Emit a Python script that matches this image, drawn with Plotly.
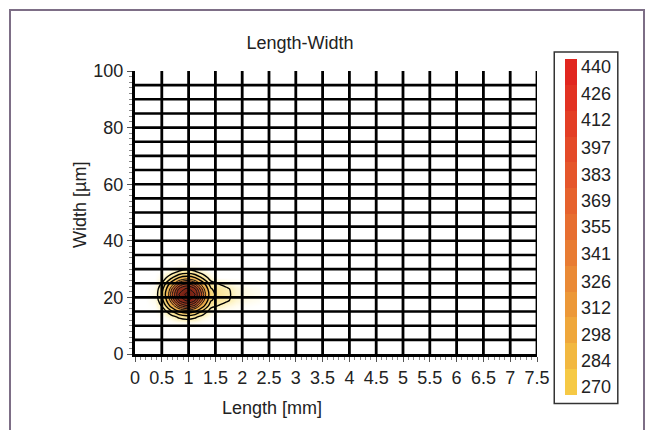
import plotly.graph_objects as go

# --- data -----------------------------------------------------------------
# sample grid (Length in mm, Width in µm) around the single hot spot
length_mm = [0.2, 0.37, 0.52, 0.67, 0.82, 0.97, 1.12, 1.27, 1.42, 1.57, 1.72, 1.87, 2.05, 2.35]
width_um = [9, 11, 13, 15, 17, 19, 21, 23, 25, 27, 29, 31, 33]

# counts per cell, one row per width value
counts = [
    [0, 0, 0, 0, 0, 0, 0, 0, 0, 0, 0, 0, 0, 0],
    [0, 0, 0, 2, 10, 12, 10, 2, 0, 0, 0, 0, 0, 0],
    [0, 0, 2, 28, 70, 89, 70, 28, 2, 0, 0, 0, 0, 0],
    [0, 0, 25, 103, 182, 210, 182, 103, 25, 5, 0, 0, 0, 0],
    [0, 6, 74, 199, 295, 334, 295, 199, 80, 55, 30, 15, 6, 0],
    [0, 16, 118, 259, 376, 415, 376, 259, 125, 90, 70, 35, 20, 8],
    [0, 22, 134, 285, 405, 450, 405, 285, 140, 95, 75, 40, 22, 10],
    [0, 16, 118, 259, 376, 415, 376, 259, 125, 90, 70, 35, 20, 8],
    [0, 6, 74, 199, 295, 334, 295, 199, 80, 55, 30, 15, 6, 0],
    [0, 0, 25, 103, 182, 210, 182, 103, 25, 0, 0, 0, 0, 0],
    [0, 0, 2, 28, 70, 89, 70, 28, 2, 0, 0, 0, 0, 0],
    [0, 0, 0, 2, 10, 12, 10, 2, 0, 0, 0, 0, 0, 0],
    [0, 0, 0, 0, 0, 0, 0, 0, 0, 0, 0, 0, 0, 0],
]

# colour-bar levels and their swatches
level_labels = ["270", "284", "298", "312", "326", "341", "355",
                "369", "383", "397", "412", "426", "440"]
level_colors = ["#f6c945", "#f2b840", "#efa73b", "#ec9838", "#ea8a36", "#e87c33", "#e76e30",
                "#e6622d", "#e5562b", "#e44a28", "#e33e25", "#e23222", "#e1261f"]

# grid lines of the chart
x_grid = [0.5 * i for i in range(1, 16)]
y_grid = [5 * i for i in range(1, 20)]

FONT = "Liberation Sans, Arial, sans-serif"
TXT = "#222222"

# --- figure ---------------------------------------------------------------
fig = go.Figure()

# smooth coloured surface with the outer contour rings
fig.add_trace(go.Contour(
    x=length_mm, y=width_um, z=counts,
    zmin=0, zmax=450,
    colorscale=[[0, "#ffffff"], [0.03, "#fffdf0"], [0.12, "#fdf2bc"], [0.3, "#f6d77a"],
                [0.5, "#e9a644"], [0.65, "#c8602c"], [0.82, "#94301c"], [1, "#6a1c12"]],
    contours=dict(coloring="heatmap", start=60, end=180, size=60, showlabels=False),
    line=dict(color="black", width=1.4, smoothing=0.8),
    showscale=False, hoverinfo="skip", showlegend=False,
))

# dense inner rings of the hot spot
fig.add_trace(go.Contour(
    x=length_mm, y=width_um, z=counts,
    contours=dict(coloring="none", start=240, end=440, size=33),
    line=dict(color="#111111", width=1, smoothing=0.8),
    showscale=False, hoverinfo="skip", showlegend=False,
))

# stepped colour bar 270 … 440
vals = [float(v) for v in level_labels]
step = (vals[-1] - vals[0]) / (len(vals) - 1)
cmin, cmax = vals[0] - step * 0.3, vals[-1] + step * 0.3
n = len(level_colors)
step_scale = []
for i, c in enumerate(level_colors):
    step_scale.append([i / n, c])
    step_scale.append([(i + 1) / n, c])

fig.add_trace(go.Scatter(
    x=[None, None], y=[None, None], mode="markers",
    marker=dict(color=[cmin, cmax], colorscale=step_scale, cmin=cmin, cmax=cmax,
                showscale=True,
                colorbar=dict(
                    x=1.045, xanchor="left", y=0.449, yanchor="middle",
                    lenmode="pixels", len=350, thicknessmode="pixels", thickness=12,
                    xpad=10, ypad=7, outlinewidth=0,
                    bordercolor="#333333", borderwidth=1.5,
                    tickmode="array", tickvals=vals, ticktext=level_labels,
                    ticks="", tickfont=dict(family=FONT, size=18, color=TXT),
                )),
    showlegend=False, hoverinfo="skip",
))

# black grid drawn over the data
shapes = []
for gx in x_grid:
    shapes.append(dict(type="line", xref="x", yref="y", x0=gx, x1=gx, y0=0, y1=100,
                       line=dict(color="black", width=2.8), layer="above"))
for gy in y_grid:
    shapes.append(dict(type="line", xref="x", yref="y", x0=0, x1=7.5, y0=gy, y1=gy,
                       line=dict(color="black", width=2.6), layer="above"))

# outer frame of the page
W, H = 646, 430
L, R, T, B = 135, 109, 71, 76
pw, ph = W - L - R, H - T - B
shapes.append(dict(type="rect", xref="paper", yref="paper",
                   x0=(10 - L) / pw, x1=(644 - L) / pw,
                   y0=-(B + 20) / ph, y1=(H - 10 - B) / ph,
                   line=dict(color="#7d6e86", width=2), fillcolor="rgba(0,0,0,0)", layer="below"))

fig.update_layout(
    width=W, height=H,
    margin=dict(l=L, r=R, t=T, b=B, autoexpand=False),
    showlegend=False,
    paper_bgcolor="white", plot_bgcolor="white",
    font=dict(family=FONT, size=18, color=TXT),
    title=dict(text="Length-Width", x=300 / W, xref="container", xanchor="center",
               y=1 - 43 / H, yref="container", yanchor="middle",
               font=dict(family=FONT, size=18, color=TXT)),
    shapes=shapes,
    annotations=[
        dict(text="Length [mm]", xref="paper", yref="paper",
             x=(272 - L) / pw, y=-(408 - (H - B)) / ph, xanchor="center", yanchor="middle",
             showarrow=False, font=dict(family=FONT, size=18, color=TXT)),
        dict(text="Width [µm]", xref="paper", yref="paper", textangle=-90,
             x=(80 - L) / pw, y=((H - B) - 205) / ph, xanchor="center", yanchor="middle",
             showarrow=False, font=dict(family=FONT, size=18, color=TXT)),
    ],
)

fig.update_xaxes(
    range=[0, 7.5], dtick=0.5, tick0=0, tickangle=0,
    showgrid=False, zeroline=False,
    showline=True, linecolor="black", linewidth=3,
    ticks="outside", ticklen=5, tickwidth=1, tickcolor="#555555",
    minor=dict(dtick=0.1, ticks="outside", ticklen=3, tickcolor="#888888", showgrid=False),
    tickfont=dict(family=FONT, size=18, color=TXT),
)
fig.update_yaxes(
    range=[0, 100], dtick=20, tick0=0,
    showgrid=False, zeroline=False,
    showline=True, linecolor="black", linewidth=3,
    ticks="outside", ticklen=5, tickwidth=1, tickcolor="#555555",
    minor=dict(dtick=2, ticks="outside", ticklen=3, tickcolor="#888888", showgrid=False),
    tickfont=dict(family=FONT, size=18, color=TXT),
)

fig.write_html("out.html")
